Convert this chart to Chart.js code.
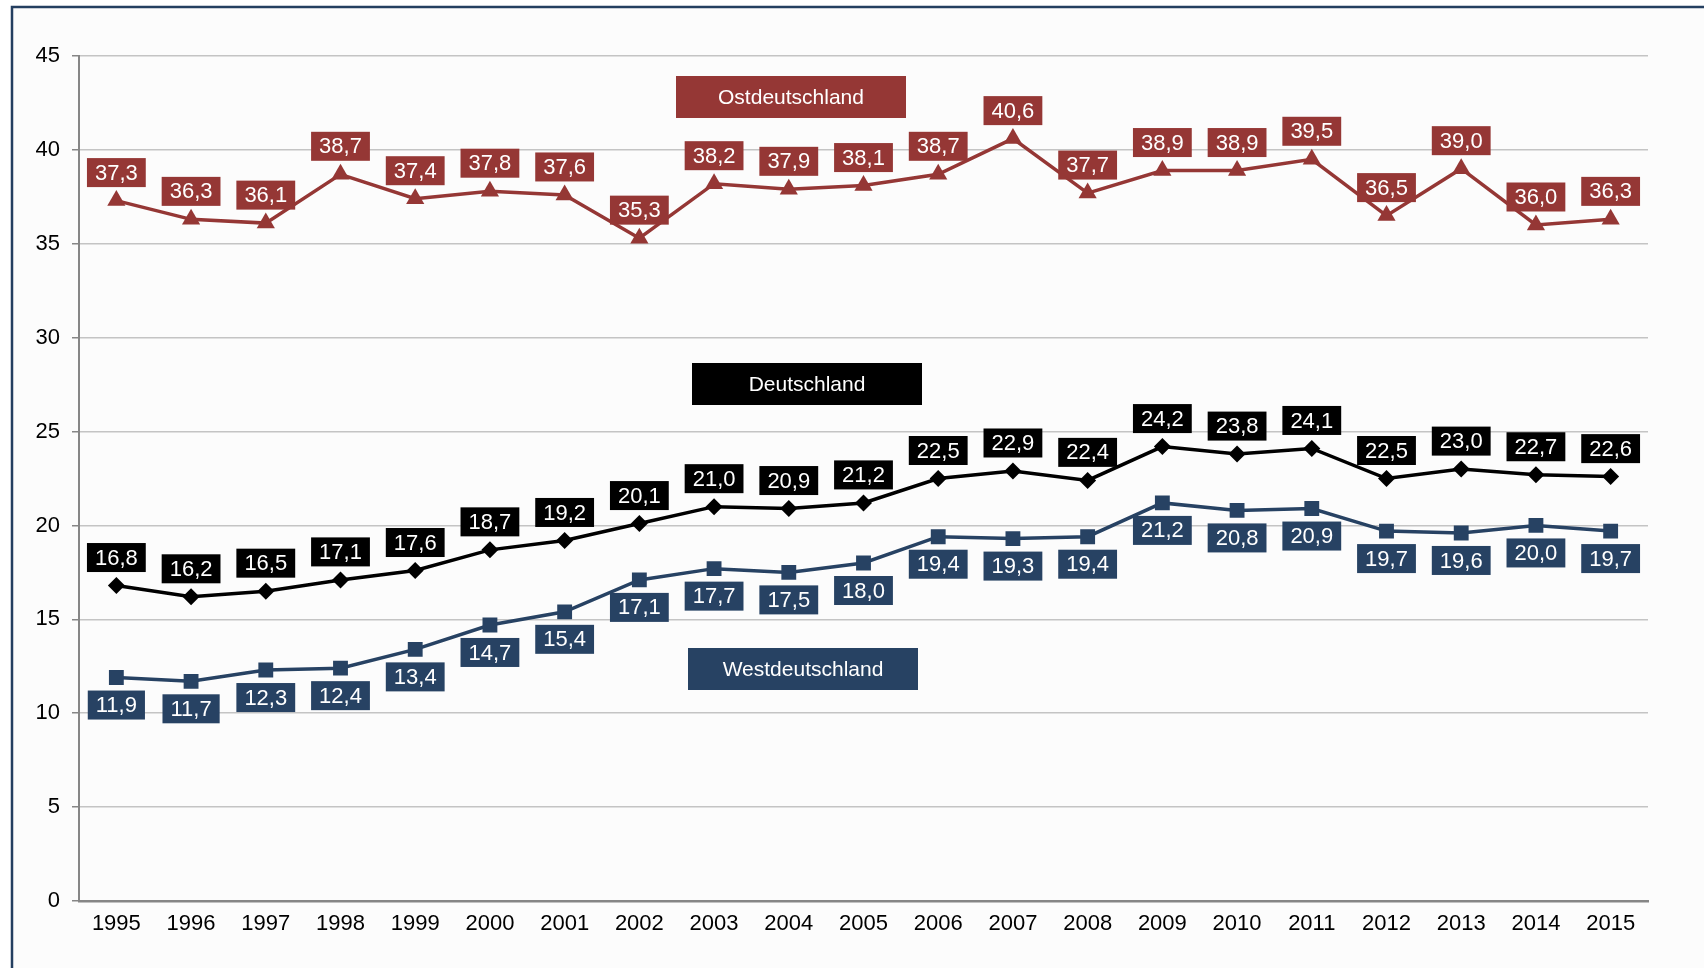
<!DOCTYPE html>
<html>
<head>
<meta charset="utf-8">
<script src="https://cdn.jsdelivr.net/npm/chart.js@4/dist/chart.umd.min.js"></script>
<style>
  html, body { margin: 0; padding: 0; background: #ffffff; }
  #wrap { width: 1704px; height: 968px; }
</style>
</head>
<body>
<div id="wrap"><canvas id="quote"></canvas></div>
<script>
var jahre = ['1995', '1996', '1997', '1998', '1999', '2000', '2001', '2002', '2003', '2004', '2005',
             '2006', '2007', '2008', '2009', '2010', '2011', '2012', '2013', '2014', '2015'];
var ostdeutschland = [37.3, 36.3, 36.1, 38.7, 37.4, 37.8, 37.6, 35.3, 38.2, 37.9, 38.1,
                      38.7, 40.6, 37.7, 38.9, 38.9, 39.5, 36.5, 39.0, 36.0, 36.3];
var deutschland = [16.8, 16.2, 16.5, 17.1, 17.6, 18.7, 19.2, 20.1, 21.0, 20.9, 21.2,
                   22.5, 22.9, 22.4, 24.2, 23.8, 24.1, 22.5, 23.0, 22.7, 22.6];
var westdeutschland = [11.9, 11.7, 12.3, 12.4, 13.4, 14.7, 15.4, 17.1, 17.7, 17.5, 18.0,
                       19.4, 19.3, 19.4, 21.2, 20.8, 20.9, 19.7, 19.6, 20.0, 19.7];
var yTicks = [0, 5, 10, 15, 20, 25, 30, 35, 40, 45];

var rot = '#953735';
var schwarz = '#000000';
var blau = '#274263';
var familie = '"Liberation Sans", Arial, sans-serif';
var schrift = '22px ' + familie;

function fmt(v) {
    return v.toFixed(1).replace('.', ',');
}

// Rahmen und Hintergrund
var rahmen = {
    id: 'rahmen',
    beforeDraw: function (chart) {
        var c = chart.ctx;
        c.save();
        c.fillStyle = '#ffffff';
        c.fillRect(0, 0, chart.width, chart.height);
        c.fillStyle = '#fcfcfc';
        c.fillRect(12, 7, chart.width - 12, chart.height - 7);
        c.strokeStyle = '#243f60';
        c.lineWidth = 2.5;
        c.beginPath();
        c.moveTo(12, chart.height);
        c.lineTo(12, 7);
        c.lineTo(chart.width, 7);
        c.stroke();
        c.restore();
    }
};

// Wertebeschriftungen als Kästchen
var werte = {
    id: 'werte',
    afterDatasetsDraw: function (chart) {
        var c = chart.ctx;
        c.save();
        c.font = schrift;
        c.textAlign = 'center';
        c.textBaseline = 'middle';
        chart.data.datasets.forEach(function (ds, i) {
            var meta = chart.getDatasetMeta(i);
            meta.data.forEach(function (pt, j) {
                var txt = fmt(ds.data[j]);
                var w = c.measureText(txt).width + 16;
                var h = 29;
                var cy = pt.y + ds.labelOffset;
                c.fillStyle = ds.borderColor;
                c.fillRect(pt.x - w / 2, cy - h / 2, w, h);
                c.fillStyle = '#ffffff';
                c.fillText(txt, pt.x, cy + 1);
            });
        });
        c.restore();
    }
};

// Serienbeschriftungen
var namen = [
    { text: 'Ostdeutschland', farbe: rot, x: 676, y: 76 },
    { text: 'Deutschland', farbe: schwarz, x: 692, y: 363 },
    { text: 'Westdeutschland', farbe: blau, x: 688, y: 648 }
];
var serienNamen = {
    id: 'serienNamen',
    afterDraw: function (chart) {
        var c = chart.ctx;
        c.save();
        c.font = '21px ' + familie;
        c.textAlign = 'center';
        c.textBaseline = 'middle';
        namen.forEach(function (n) {
            c.fillStyle = n.farbe;
            c.fillRect(n.x, n.y, 230, 42);
            c.fillStyle = '#ffffff';
            c.fillText(n.text, n.x + 115, n.y + 22);
        });
        c.restore();
    }
};

var ctx = document.getElementById('quote');
var quoteChart = new Chart(ctx, {
    type: 'line',
    data: {
        labels: jahre,
        datasets: [{
            label: 'Ostdeutschland',
            data: ostdeutschland,
            borderColor: rot,
            backgroundColor: rot,
            borderWidth: 3.5,
            pointStyle: 'triangle',
            pointRadius: 10.5,
            pointBorderWidth: 0,
            labelOffset: -28
        }, {
            label: 'Deutschland',
            data: deutschland,
            borderColor: schwarz,
            backgroundColor: schwarz,
            borderWidth: 3.5,
            pointStyle: 'rectRot',
            pointRadius: 8.5,
            pointBorderWidth: 0,
            labelOffset: -28
        }, {
            label: 'Westdeutschland',
            data: westdeutschland,
            borderColor: blau,
            backgroundColor: blau,
            borderWidth: 3.5,
            pointStyle: 'rect',
            pointRadius: 10.5,
            pointBorderWidth: 0,
            labelOffset: 27.5
        }]
    },
    options: {
        responsive: true,
        maintainAspectRatio: false,
        animation: false,
        layout: { padding: { top: 56, right: 56, left: 0, bottom: 0 } },
        plugins: {
            legend: { display: false },
            tooltip: { enabled: false }
        },
        scales: {
            x: {
                offset: true,
                grid: { display: false, drawTicks: false },
                border: { color: '#868686', width: 2.5 },
                ticks: {
                    color: '#000000',
                    font: { family: familie, size: 22 },
                    padding: 10,
                    maxRotation: 0,
                    autoSkip: false
                },
                afterFit: function (s) { s.height = 67; }
            },
            y: {
                min: 0,
                max: 45,
                afterBuildTicks: function (s) {
                    s.ticks = yTicks.map(function (v) { return { value: v }; });
                },
                grid: { color: '#c4c4c4', lineWidth: 1.5, tickLength: 7, tickColor: '#868686' },
                border: { color: '#868686', width: 2 },
                ticks: {
                    color: '#000000',
                    font: { family: familie, size: 22 },
                    padding: 12
                },
                afterFit: function (s) { s.width = 79; }
            }
        }
    },
    plugins: [rahmen, werte, serienNamen]
});
</script>
</body>
</html>
